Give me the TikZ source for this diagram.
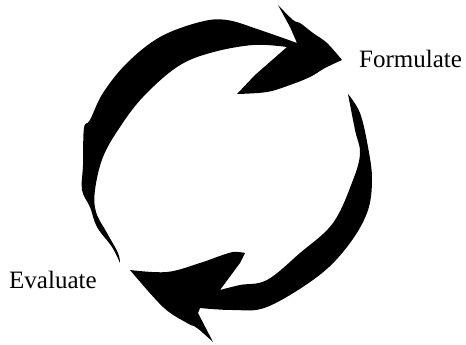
\documentclass[tikz,border=0pt]{standalone}
\usepackage{fontspec}
\setmainfont{Liberation Serif}
\usepackage{tikz}

\begin{document}
\begin{tikzpicture}[x=1pt, y=-1pt,
    brush/.style={fill=black},
    stagetext/.style={font=\fontsize{25}{30}\selectfont, inner sep=0pt, anchor=base west}]
  \useasboundingbox (0,0) rectangle (466,345);
  %% Upper stroke, runs up the left side and points to Formulate
  \fill[brush] (120,263)
    -- plot[smooth, tension=0.6] coordinates {(120,263) (112,247) (97,227) (90,207) (82,190) (83,165) (84,128) (90,120) (103,93) (127,63) (160,37) (200,22) (227,20) (260,30) (297,43)}
    -- (290,27) -- (278,5)
    -- plot[smooth, tension=0.6] coordinates {(278,5) (293,20) (300,23) (313,33) (327,43) (342,60)}
    -- plot[smooth, tension=0.6] coordinates {(342,60) (325,68) (310,77) (290,85) (267,92) (237,94)}
    -- (255,75) -- (287,47)
    -- plot[smooth, tension=0.6] coordinates {(287,47) (253,45) (210,53) (177,67) (143,97) (120,127) (103,157) (95,190) (96,212) (107,233) (118,253) (120,263)}
    -- cycle;
  %% Lower stroke, runs down the right side and points to Evaluate
  \fill[brush] (348,94)
    -- plot[smooth, tension=0.6] coordinates {(348,94) (360,113) (368,147) (372,180) (367,213) (347,247) (317,277) (267,307) (233,310) (200,308)}
    -- (198,313) -- (213,342)
    -- plot[smooth, tension=0.6] coordinates {(213,342) (197,328) (187,323) (163,307) (130,270)}
    -- plot[smooth, tension=0.6] coordinates {(130,270) (167,272) (200,263) (217,257) (233,252) (245,253)}
    -- (240,263) -- (220,290)
    -- plot[smooth, tension=0.6] coordinates {(220,290) (240,285) (267,280) (300,253) (333,223) (353,180) (360,153) (355,130) (348,94)}
    -- cycle;
  %% Stage names
  \node[stagetext] (formulate) at (359,67) {Formulate};
  \node[stagetext] (evaluate) at (9,288) {Evaluate};
\end{tikzpicture}
\end{document}
